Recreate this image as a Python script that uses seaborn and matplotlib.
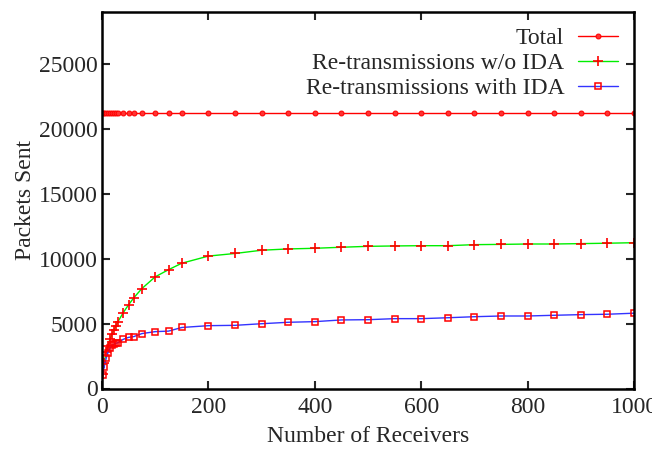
import numpy as np
import pandas as pd
import matplotlib
matplotlib.use("Agg")
import matplotlib.pyplot as plt
import seaborn as sns

receivers = [1, 4, 8, 11, 15, 19, 22, 26, 30, 40, 50, 60, 75, 100, 125, 150,
             200, 250, 300, 350, 400, 450, 500, 550, 600, 650, 700, 750, 800,
             850, 900, 950, 1000]
total = [21200] * len(receivers)
retx_without_ida = [1100, 2000, 2800, 3300, 3800, 4200, 4500, 4800, 5150, 5850,
                    6450, 7000, 7700, 8600, 9150, 9650, 10200, 10400, 10650,
                    10750, 10800, 10880, 10950, 10980, 11000, 11000, 11080,
                    11100, 11130, 11130, 11160, 11190, 11230]
retx_with_ida = [1040, 1650, 2350, 2760, 3100, 3320, 3400, 3480, 3530, 3790,
                 3940, 4000, 4230, 4380, 4420, 4700, 4840, 4865, 4990, 5100,
                 5150, 5280, 5300, 5380, 5380, 5450, 5530, 5585, 5585, 5640,
                 5690, 5720, 5800]
labels = ["Total", "Re-transmissions w/o IDA", "Re-transmissions with IDA"]
xticks = [0, 200, 400, 600, 800, 1000]
yticks = [0, 5000, 10000, 15000, 20000, 25000]

sns.set_style("ticks")
plt.rcParams['font.family'] = ['Liberation Serif', 'DejaVu Serif']
FS = 17
plt.rcParams['font.size'] = FS

fig = plt.figure(figsize=(6.52, 4.5), dpi=100)
ax = fig.add_axes([102/652, 1 - 388.5/450, (634 - 102)/652, (388.5 - 12)/450])

df = pd.DataFrame({"x": receivers, "total": total,
                   "wo": retx_without_ida, "w": retx_with_ida})

sns.lineplot(data=df, x="x", y="total", ax=ax, color="#ff0000", lw=1.0,
             marker="o", markersize=3.5, markerfacecolor="#ff3333",
             markeredgecolor="#ff0000", label=labels[0])
sns.lineplot(data=df, x="x", y="wo", ax=ax, color="#00ee00", lw=1.0,
             marker="+", markersize=6.5, markeredgewidth=1.2,
             markeredgecolor="#ff0000", label=labels[1])
sns.lineplot(data=df, x="x", y="w", ax=ax, color="#3333ff", lw=1.0,
             marker="s", markersize=5, markeredgewidth=1.1,
             markerfacecolor="none", markeredgecolor="#ff0000", label=labels[2])

ax.set_xlim(0, 1000)
ax.set_ylim(0, 29000)
ax.set_xticks(xticks)
ax.set_yticks(yticks)
ax.tick_params(direction="in", length=6, width=1.5, top=True, right=True,
               labelsize=FS)
ax.tick_params(axis="y", pad=3)
ax.tick_params(axis="x", pad=6)
for s in ax.spines.values():
    s.set_linewidth(1.8)
    s.set_color("black")
ax.set_xlabel("Number of Receivers", fontsize=FS, labelpad=6)
ax.set_ylabel("Packets Sent", fontsize=FS, labelpad=2)

leg = ax.legend(loc="upper right", bbox_to_anchor=(0.993, 0.99), frameon=False,
                markerfirst=False, handlelength=1.7, handletextpad=0.6,
                labelspacing=0.15, fontsize=FS, borderaxespad=0.1)

fig.savefig("out.png", dpi=100)
